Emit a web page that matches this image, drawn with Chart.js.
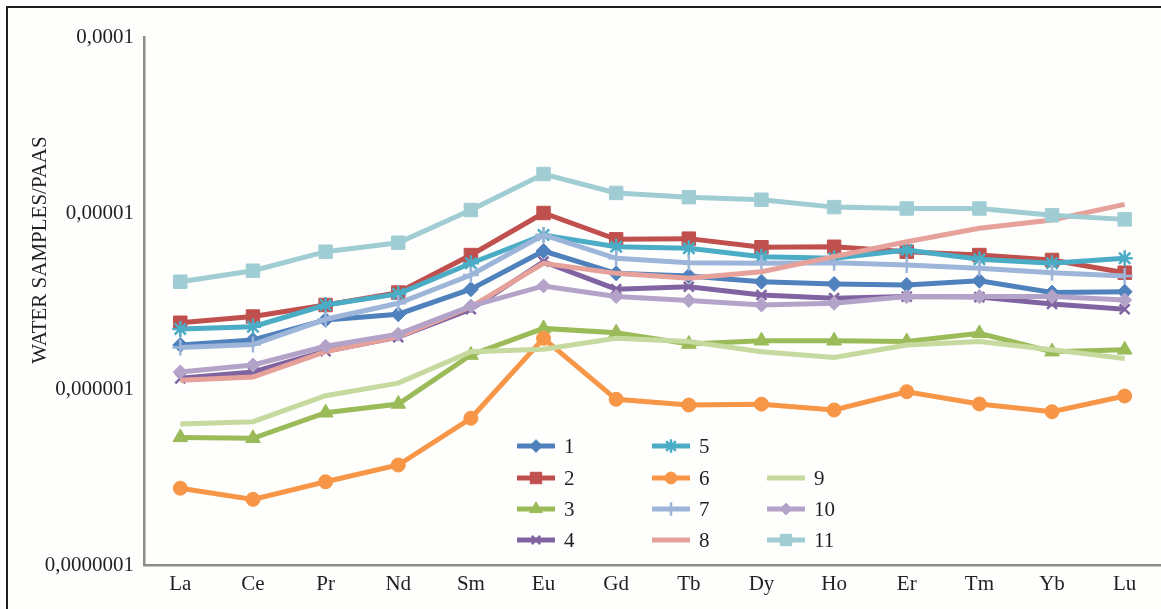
<!DOCTYPE html>
<html>
<head>
<meta charset="utf-8">
<script src="https://cdn.jsdelivr.net/npm/chart.js@4.4.1/dist/chart.umd.min.js"></script>
<style>
    html, body { margin: 0; padding: 0; overflow: hidden; background: #fefefc; }
    #ree_chart { display: block; width: 1161px; height: 609px; }
</style>
</head>
<body>
<canvas id="ree_chart" width="1161" height="609"></canvas>
<script>
// data
const elements = ["La", "Ce", "Pr", "Nd", "Sm", "Eu", "Gd", "Tb", "Dy", "Ho", "Er", "Tm", "Yb", "Lu"]
const yTickValues = [1e-7, 1e-6, 1e-5, 1e-4]
const yTickLabels = ["0,0000001", "0,000001", "0,00001", "0,0001"]
const seriesNames = ["1", "2", "3", "4", "5", "6", "7", "8", "9", "10", "11"]

const s1 = [1.78e-6, 1.90e-6, 2.47e-6, 2.66e-6, 3.69e-6, 6.08e-6, 4.54e-6, 4.39e-6, 4.07e-6, 3.95e-6, 3.90e-6, 4.12e-6, 3.53e-6, 3.57e-6]
const s2 = [2.38e-6, 2.58e-6, 3.00e-6, 3.53e-6, 5.77e-6, 1.00e-5, 7.09e-6, 7.15e-6, 6.39e-6, 6.43e-6, 6.03e-6, 5.77e-6, 5.41e-6, 4.58e-6]
const s3 = [5.31e-7, 5.25e-7, 7.33e-7, 8.22e-7, 1.56e-6, 2.21e-6, 2.09e-6, 1.80e-6, 1.88e-6, 1.88e-6, 1.86e-6, 2.07e-6, 1.63e-6, 1.67e-6]
const s4 = [1.15e-6, 1.25e-6, 1.64e-6, 1.97e-6, 2.84e-6, 5.29e-6, 3.69e-6, 3.81e-6, 3.42e-6, 3.28e-6, 3.35e-6, 3.33e-6, 3.04e-6, 2.84e-6]
const s5 = [2.19e-6, 2.26e-6, 3.00e-6, 3.47e-6, 5.18e-6, 7.50e-6, 6.43e-6, 6.30e-6, 5.65e-6, 5.53e-6, 6.16e-6, 5.46e-6, 5.18e-6, 5.53e-6]
const s6 = [2.73e-7, 2.36e-7, 2.97e-7, 3.70e-7, 6.82e-7, 1.94e-6, 8.74e-7, 8.11e-7, 8.20e-7, 7.60e-7, 9.65e-7, 8.22e-7, 7.43e-7, 9.12e-7]
const s7 = [1.72e-6, 1.79e-6, 2.49e-6, 3.07e-6, 4.44e-6, 7.50e-6, 5.53e-6, 5.22e-6, 5.18e-6, 5.22e-6, 5.07e-6, 4.85e-6, 4.58e-6, 4.39e-6]
const s8 = [1.12e-6, 1.17e-6, 1.63e-6, 1.98e-6, 2.93e-6, 5.18e-6, 4.54e-6, 4.26e-6, 4.64e-6, 5.65e-6, 6.87e-6, 8.19e-6, 9.12e-6, 1.12e-5]
const s9 = [6.33e-7, 6.52e-7, 9.16e-7, 1.08e-6, 1.63e-6, 1.68e-6, 1.94e-6, 1.86e-6, 1.63e-6, 1.51e-6, 1.78e-6, 1.86e-6, 1.67e-6, 1.49e-6]
const s10 = [1.25e-6, 1.37e-6, 1.75e-6, 2.05e-6, 2.96e-6, 3.85e-6, 3.35e-6, 3.18e-6, 3.00e-6, 3.07e-6, 3.35e-6, 3.35e-6, 3.35e-6, 3.20e-6]
const s11 = [4.07e-6, 4.70e-6, 6.03e-6, 6.78e-6, 1.04e-5, 1.665e-5, 1.30e-5, 1.23e-5, 1.19e-5, 1.08e-5, 1.06e-5, 1.06e-5, 9.7e-6, 9.2e-6]

const seriesData = [s1, s2, s3, s4, s5, s6, s7, s8, s9, s10, s11]

// styles
const colors = ["#4f81bd", "#c0504d", "#9bbb59", "#8064a2", "#4bacc6", "#f79646",
    "#9db5d9", "#e6a19b", "#c6d99e", "#b4a3c8", "#a0cdd3"]
const markers = ["rectRot", "rect", "triangle", "crossRot", "star", "circle", "cross", false, false, "rectRot", "rect"]
const markerSize = [7.5, 9.5, 8.5, 7, 8, 7, 8, 0, 0, 7, 9.5]

// legend layout: [column, row]
const legendSlots = [[0, 0], [0, 1], [0, 2], [0, 3], [1, 0], [1, 1], [1, 2], [1, 3], [2, 1], [2, 2], [2, 3]]
const legendColX = [517, 652, 767]
const legendRowY = [446, 478, 509, 540]

const fontFamily = "'Liberation Serif', 'Times New Roman', serif"
const textColor = "#231f20"
const axisColor = "#8e8c88"

const framePlugin = {
    id: "frame",
    beforeDraw(chart) {
        const ctx = chart.ctx
        ctx.save()
        ctx.fillStyle = "#fefefc"
        ctx.fillRect(0, 0, chart.width, chart.height)
        ctx.strokeStyle = "#1e1e1e"
        ctx.lineWidth = 2
        ctx.beginPath()
        ctx.moveTo(7, chart.height)
        ctx.lineTo(7, 7)
        ctx.lineTo(chart.width, 7)
        ctx.stroke()
        // y axis title
        ctx.translate(40, 250)
        ctx.rotate(-Math.PI / 2)
        ctx.fillStyle = textColor
        ctx.font = "21px " + fontFamily
        ctx.textAlign = "center"
        ctx.textBaseline = "middle"
        ctx.fillText("WATER SAMPLES/PAAS", 0, 0)
        ctx.restore()
    },
}

const legendPlugin = {
    id: "gridLegend",
    afterDraw(chart) {
        const ctx = chart.ctx
        chart.data.datasets.forEach((ds, i) => {
            const slot = legendSlots[i]
            const x = legendColX[slot[0]]
            const y = legendRowY[slot[1]]
            ctx.save()
            ctx.strokeStyle = ds.borderColor
            ctx.lineWidth = 5
            ctx.beginPath()
            ctx.moveTo(x, y)
            ctx.lineTo(x + 38, y)
            ctx.stroke()
            if (ds.pointStyle && ds.pointRadius > 0) {
                ctx.fillStyle = ds.pointBackgroundColor
                ctx.strokeStyle = ds.pointBorderColor
                ctx.lineWidth = ds.pointBorderWidth
                Chart.helpers.drawPoint(ctx, {
                    pointStyle: ds.pointStyle,
                    radius: ds.pointRadius * 0.85,
                    rotation: 0,
                    borderWidth: ds.pointBorderWidth,
                }, x + 19, y)
            }
            ctx.fillStyle = textColor
            ctx.font = "21px " + fontFamily
            ctx.textBaseline = "middle"
            ctx.textAlign = "left"
            ctx.fillText(ds.label, x + 47, y + 1)
            ctx.restore()
        })
    },
}

function main() {
    const datasets = seriesData.map((values, i) => ({
        label: seriesNames[i],
        data: values,
        borderColor: colors[i],
        backgroundColor: colors[i],
        borderWidth: 5,
        tension: 0,
        pointStyle: markers[i],
        pointRadius: markerSize[i],
        pointBackgroundColor: colors[i],
        pointBorderColor: colors[i],
        pointBorderWidth: (markers[i] === "cross" || markers[i] === "crossRot" || markers[i] === "star") ? 2.5 : 1,
        order: seriesData.length - i,
    }))

    new Chart(document.getElementById("ree_chart"), {
        type: "line",
        data: {
            labels: elements,
            datasets: datasets,
        },
        options: {
            responsive: false,
            animation: false,
            layout: {
                autoPadding: false,
                padding: { top: 37, left: 0, right: 0, bottom: 0 },
            },
            scales: {
                x: {
                    offset: true,
                    grid: { display: false, drawTicks: false },
                    border: { display: true, color: axisColor, width: 2.5 },
                    ticks: {
                        color: textColor,
                        font: { family: fontFamily, size: 21 },
                        padding: 7,
                        maxRotation: 0,
                        autoSkip: false,
                    },
                    afterFit(scale) {
                        scale.height = 44
                        scale.paddingLeft = 0
                        scale.paddingRight = 0
                    },
                },
                y: {
                    type: "logarithmic",
                    min: yTickValues[0],
                    max: yTickValues[yTickValues.length - 1],
                    grid: { display: false, drawTicks: false },
                    border: { display: true, color: axisColor, width: 2.5 },
                    afterBuildTicks(scale) {
                        scale.ticks = yTickValues.map((v) => ({ value: v }))
                    },
                    ticks: {
                        color: textColor,
                        font: { family: fontFamily, size: 21 },
                        padding: 10,
                        callback: (value) => {
                            const k = yTickValues.findIndex((v) => Math.abs(Math.log10(v) - Math.log10(value)) < 1e-6)
                            return k >= 0 ? yTickLabels[k] : ""
                        },
                    },
                    afterFit(scale) {
                        scale.width = 144
                    },
                },
            },
            plugins: {
                legend: { display: false },
                tooltip: { enabled: false },
            },
        },
        plugins: [framePlugin, legendPlugin],
    })
}

document.addEventListener("DOMContentLoaded", main())
</script>
</body>
</html>
